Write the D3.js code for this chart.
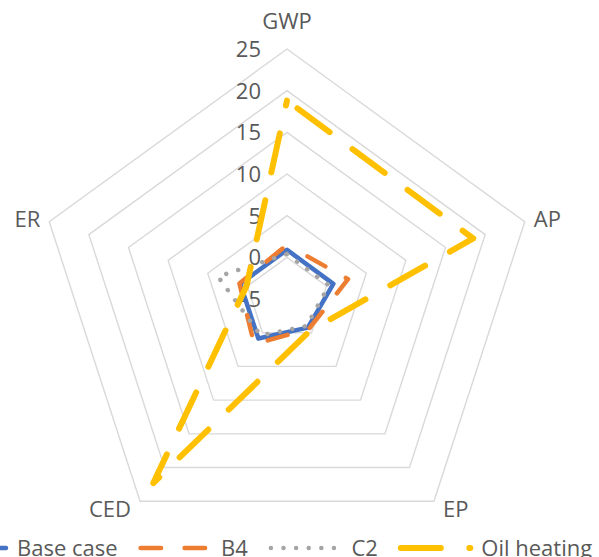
<!DOCTYPE html>
<html>
<head>
<meta charset="utf-8">
<script src="https://cdn.jsdelivr.net/npm/d3@7"></script>
<style>
  html, body { margin: 0; padding: 0; background: #fff; overflow: hidden; }
  svg text { font-family: "Open Sans", sans-serif; fill: #595959; }
</style>
</head>
<body>
<svg id="radar" width="599" height="557"></svg>
<script>
// axes of the radar, clockwise from the top
var categories = ["GWP", "AP", "EP", "CED", "ER"];
var tickValues = [-5, 0, 5, 10, 15, 20, 25];

var seriesNames = ["Base case", "B4", "C2", "Oil heating"];
var baseCase   = [0.9, 0.85, -0.75, 0.85, 0.9];
var b4         = [1.5, 2.7, -0.55, 1.7, 1.0];
var c2         = [0.4, 0.3, -1.0, 0.4, 3.7];
var oilHeating = [18.8, 18.5, -0.3, 22.3, 0.1];

var seriesValues = [baseCase, b4, c2, oilHeating];
var seriesStyle = [
  {color: "#4472C4", width: 4.5, dash: null, offset: 0},
  {color: "#ED7D31", width: 4.5, dash: "20.5,23.5", offset: 20.5},
  {color: "#A5A5A5", width: 4.5, dash: "0.01,12.6", offset: 0},
  {color: "#FFC000", width: 6,   dash: "40,28.5", offset: 55.5}
];

var svg = d3.select("svg#radar");
var cx = 287, cy = 299;
var outerR = 250;

var r = d3.scaleLinear().domain([-5, 25]).range([0, outerR]);

// angle of each category, GWP straight up
var angle = d3.scalePoint().domain(categories).range([0, 2 * Math.PI * 4 / 5]);

function pt(cat, v){
  var a = angle(cat) - Math.PI / 2;
  return [cx + r(v) * Math.cos(a), cy + r(v) * Math.sin(a)];
}

// gridline pentagons
var grid = svg.append("g");
grid.selectAll("path.gridLine")
  .data(tickValues.filter(d => d > -5))
  .enter().append("path")
  .attr("class", "gridLine")
  .attr("d", d => d3.line()(categories.map(c => pt(c, d))) + "Z")
  .attr("fill", "none")
  .attr("stroke", "#D9D9D9")
  .attr("stroke-width", 1.4);

// value axis labels
svg.append("g").selectAll("text.tick")
  .data(tickValues)
  .enter().append("text")
  .attr("class", "tick")
  .attr("x", cx - 26)
  .attr("y", d => cy - r(d) + 8)
  .attr("text-anchor", "end")
  .attr("font-size", 22)
  .text(d => d);

// category labels
svg.append("g").selectAll("text.cat")
  .data(categories)
  .enter().append("text")
  .attr("class", "cat")
  .attr("font-size", 22)
  .each(function(c){
    var p = pt(c, 25);
    var a = angle(c) - Math.PI / 2;
    var s = d3.select(this);
    if (c === categories[0]) {
      s.attr("x", p[0]).attr("y", p[1] - 20).attr("text-anchor", "middle");
    } else {
      var right = Math.cos(a) > 0;
      s.attr("x", p[0] + (right ? 9 : -9))
        .attr("y", p[1] + (Math.sin(a) > 0.5 ? 16 : 5))
        .attr("text-anchor", right ? "start" : "end");
    }
  })
  .text(c => c);

// series
var lineGen = d3.line().curve(d3.curveLinearClosed);
svg.append("g").selectAll("path.series")
  .data(seriesValues)
  .enter().append("path")
  .attr("class", "series")
  .attr("d", vals => lineGen(vals.map((v, i) => pt(categories[i], v))))
  .attr("fill", "none")
  .attr("stroke", (d, i) => seriesStyle[i].color)
  .attr("stroke-width", (d, i) => seriesStyle[i].width)
  .attr("stroke-dasharray", (d, i) => seriesStyle[i].dash)
  .attr("stroke-dashoffset", (d, i) => seriesStyle[i].offset)
  .attr("stroke-linecap", "round")
  .attr("stroke-linejoin", "round");

// legend, cut off at the bottom edge like the original
var legend = svg.append("g");
var sampleLen = 69.5;
var x = -63.5;
seriesNames.forEach(function(name, i){
  var st = seriesStyle[i];
  legend.append("line")
    .attr("x1", x).attr("x2", x + sampleLen)
    .attr("y1", 548).attr("y2", 548)
    .attr("stroke", st.color)
    .attr("stroke-width", st.width)
    .attr("stroke-dasharray", st.dash)
    .attr("stroke-linecap", "round");
  var t = legend.append("text")
    .attr("x", x + sampleLen + 11)
    .attr("y", 556)
    .attr("font-size", 22)
    .text(name);
  x = x + sampleLen + 11 + t.node().getComputedTextLength() + 23;
});
</script>
</body>
</html>
